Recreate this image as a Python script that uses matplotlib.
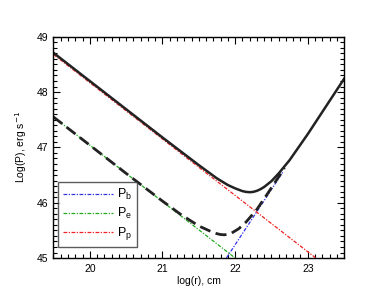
import matplotlib
matplotlib.use('Agg')
import matplotlib.pyplot as plt
from matplotlib.ticker import MultipleLocator

plt.rcParams['font.family'] = ['Liberation Sans', 'DejaVu Sans']

# component lines
xBlue = [21.88, 22.66]
yBlue = [45.0, 46.56]
xGreen = [19.5, 22.05]
yGreen = [47.55, 44.95]
xRed = [19.5, 23.2]
yRed = [48.68, 44.91]

# total (solid) curve
xTot = [19.5, 20.0, 20.5, 21.0, 21.5, 21.75, 21.9, 22.0, 22.05, 22.1, 22.15, 22.2,
        22.25, 22.3, 22.35, 22.4, 22.5, 22.6, 22.75, 23.0, 23.25, 23.5]
yTot = [48.71, 48.20, 47.69, 47.18, 46.68, 46.44, 46.32, 46.26, 46.235, 46.21, 46.196, 46.19,
        46.196, 46.215, 46.245, 46.285, 46.39, 46.53, 46.77, 47.24, 47.74, 48.24]

# electron + blob (dashed) curve
xDash = [19.5, 20.0, 20.5, 21.0, 21.25, 21.5, 21.65, 21.75, 21.8, 21.85, 21.9, 21.95,
         22.05, 22.15, 22.3, 22.45, 22.6, 22.68]
yDash = [47.55, 47.04, 46.53, 46.03, 45.79, 45.58, 45.49, 45.44, 45.425, 45.42, 45.428, 45.45,
         45.53, 45.65, 45.88, 46.17, 46.47, 46.63]

labels = ['P$_\\mathregular{b}$', 'P$_\\mathregular{e}$', 'P$_\\mathregular{p}$']

fig = plt.figure(figsize=(3.74, 2.99), dpi=100)
ax = fig.add_axes([0.143, 0.137, 0.777, 0.740])

dd = (0, (3, 1.2, 1, 1.2))
ax.plot(xBlue, yBlue, color='#3333ee', lw=0.9, ls=dd, label=labels[0])
ax.plot(xGreen, yGreen, color='#22aa22', lw=0.9, ls=dd, label=labels[1])
ax.plot(xRed, yRed, color='#ee2222', lw=0.9, ls=dd, label=labels[2])
ax.plot(xDash, yDash, color='#222222', lw=2.0, ls=(0, (4, 2)))
ax.plot(xTot, yTot, color='#222222', lw=1.8)

ax.set_xlim(19.5, 23.5)
ax.set_ylim(45, 49)
ax.xaxis.set_major_locator(MultipleLocator(1))
ax.xaxis.set_minor_locator(MultipleLocator(0.1))
ax.yaxis.set_major_locator(MultipleLocator(1))
ax.yaxis.set_minor_locator(MultipleLocator(0.1))
ax.tick_params(which='both', direction='in', top=True, right=True, labelsize=7.5, width=0.8)
ax.tick_params(which='major', length=5, pad=4)
ax.tick_params(which='minor', length=3)
for s in ax.spines.values():
    s.set_linewidth(1.0)

ax.set_xlabel('log(r), cm', fontsize=7.5, labelpad=2)
ax.set_ylabel('Log(P), erg s$^{-1}$', fontsize=7.5, labelpad=5)

leg = ax.legend(loc='lower left', bbox_to_anchor=(0.015, 0.048), fontsize=9, frameon=True,
                fancybox=False, edgecolor='#333333', handlelength=4.0, handletextpad=0.3,
                borderaxespad=0, labelspacing=0.32, borderpad=0.4)
leg.get_frame().set_linewidth(1.0)

fig.savefig('out.png', dpi=100)
